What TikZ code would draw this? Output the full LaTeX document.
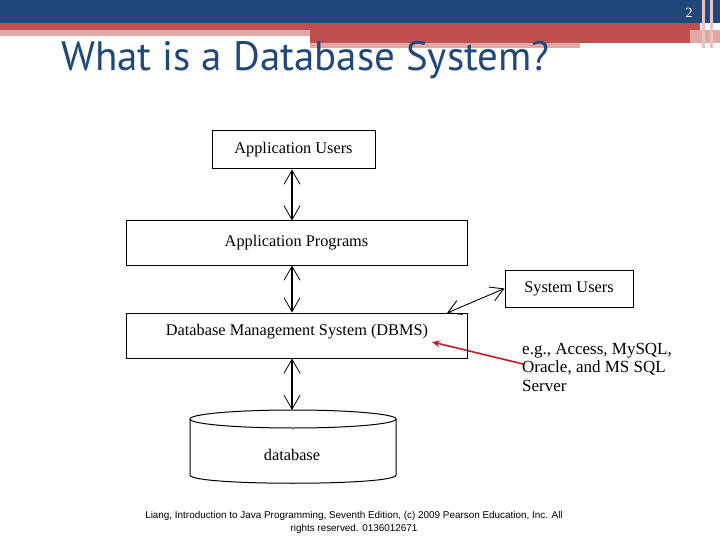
\documentclass[tikz,border=0pt]{standalone}
\usepackage{fontspec}
\setmainfont{Liberation Serif}
\setsansfont{Liberation Sans}
\newfontfamily\titlefont{PT Sans}
\usetikzlibrary{positioning}
\usetikzlibrary{arrows.meta}
\definecolor{hdrblue}{RGB}{33,72,122}
\definecolor{hdrred}{RGB}{192,80,77}
\definecolor{hdrpink}{RGB}{224,168,166}
\definecolor{ptrred}{RGB}{190,30,40}
\begin{document}
\begin{tikzpicture}[x=1pt,y=-1pt,
  box/.style={draw,line width=1pt,inner sep=0pt,font=\fontsize{16.3}{16}\selectfont},
  link/.style={line width=1.2pt,{Straight Barb[length=14pt,width=16pt,line width=0.8pt]}-{Straight Barb[length=14pt,width=16pt,line width=0.8pt]}}]
\useasboundingbox (0,0) rectangle (720,540);
\fill[white] (0,0) rectangle (720,540);

% header bars
\fill[hdrblue] (0,0) rectangle (720,23);
\fill[hdrred] (0,23) rectangle (700,30);
\fill[hdrpink] (0,30) rectangle (310,36);
\fill[hdrred] (310,30) rectangle (690,43);
\fill[hdrpink] (310,43) rectangle (580,48);
\fill[hdrpink] (690,30) rectangle (720,43);
\fill[hdrpink!70] (702,0) rectangle (705,48);
\fill[hdrpink!70] (710,0) rectangle (713,48);
\node[text=white,font=\fontsize{14}{14}\selectfont] (pg) at (689,13) {2};

% title
\node[anchor=base west,inner sep=0pt,text=hdrblue,font=\titlefont\fontsize{41}{41}\selectfont] (title) at (61,71) {What is a Database System?};

% boxes
\node[box,minimum width=163pt,minimum height=38pt] (users) at (293.5,150) {Application Users};
\node[box,minimum width=341pt,minimum height=44pt] (progs) at (296.5,243) {Application Programs};
\node[box,minimum width=341pt,minimum height=45pt] (dbms) at (296.5,335.5) {};
\node[font=\fontsize{16.3}{16}\selectfont,inner sep=0pt] (dbmstxt) at (297,332) {Database Management System (DBMS)};
\node[box,minimum width=128pt,minimum height=37pt] (sysusers) at (569,288.5) {System Users};

% database cylinder
\draw[line width=1pt] (190,419) -- (190,475) .. controls (190,486) and (396,486) .. (396,475) -- (396,419);
\draw[line width=1pt,fill=white] (293,419) ellipse [x radius=103, y radius=9];
\coordinate (dbtop) at (292,410);
\node[font=\fontsize{16.3}{16}\selectfont] (dbname) at (292,455) {database};

% connectors
\draw[link] (users.south -| 292,0) -- (progs.north -| 292,0);
\draw[link] (progs.south -| 292,0) -- (dbms.north -| 292,0);
\draw[link] (dbms.south -| 292,0) -- (dbtop);
\coordinate (dbmscorner) at (447,313);
\draw[line width=0.9pt,{Straight Barb[length=13pt,width=15pt]}-{Straight Barb[length=13pt,width=15pt]}] (dbmscorner) -- (sysusers.west);

% products note
\node[anchor=north west,align=left,inner sep=0pt,font=\fontsize{17}{18.5}\selectfont] (note) at (522,343) {e.g., Access, MySQL,\\Oracle, and MS SQL\\Server};
\coordinate (notetail) at (523,364);
\coordinate (dbmshead) at (432,342);
\draw[ptrred,line width=1.6pt,-{Stealth[length=8pt,width=7pt]}] (notetail) -- (dbmshead);

% footer
\node[align=center,font=\sffamily\fontsize{9.9}{13}\selectfont] (foot) at (354,522) {Liang, Introduction to Java Programming, Seventh Edition, (c) 2009 Pearson Education, Inc. All\\rights reserved. 0136012671};
\end{tikzpicture}
\end{document}
